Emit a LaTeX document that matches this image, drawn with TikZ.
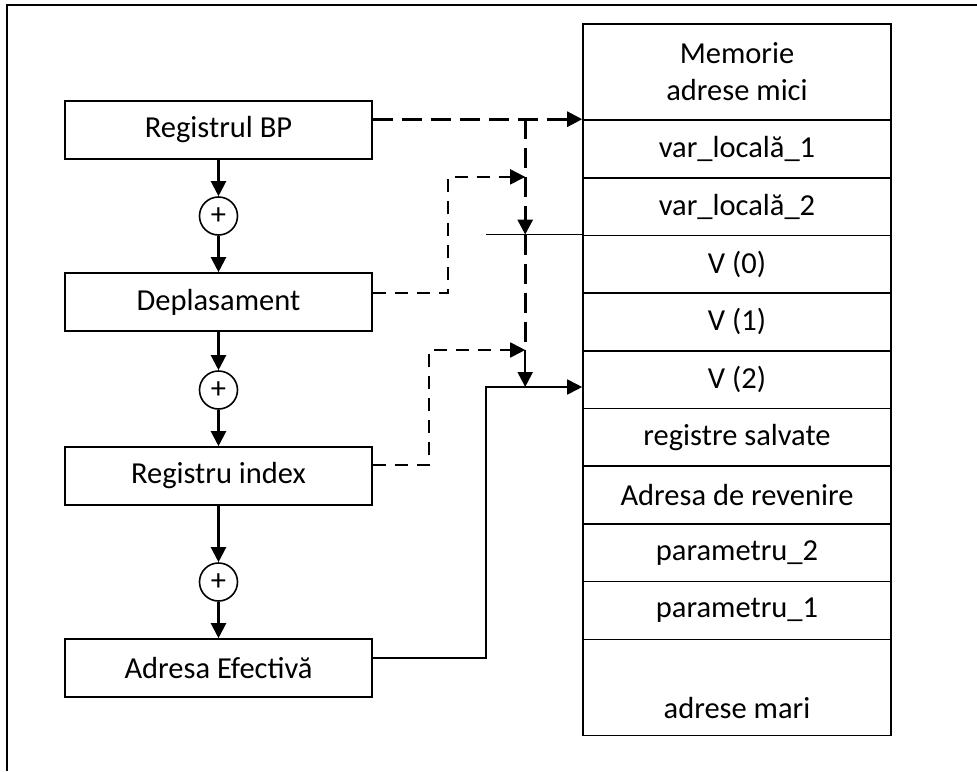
\documentclass[tikz,border=0pt]{standalone}
\usepackage{fontspec}
\setmainfont{Carlito}
\usetikzlibrary{arrows.meta}
\tikzstyle{block} = [draw, rectangle, line width=1.6pt,
    minimum height=58pt, minimum width=307pt]
\tikzstyle{cell} = [draw, rectangle, line width=1.6pt, inner sep=0pt,
    minimum height=57.7pt, minimum width=308pt]
\tikzstyle{bigcell} = [cell, minimum height=96pt, align=center]
\tikzstyle{sum} = [draw, circle, line width=1.6pt, minimum size=38pt, inner sep=0pt]
\tikzstyle{link} = [line width=2.2pt]
\tikzstyle{bpdash} = [line width=2.8pt, dash pattern=on 20pt off 9pt]
\tikzstyle{offdash} = [line width=1.8pt, dash pattern=on 13pt off 9pt]

\begin{document}
\begin{tikzpicture}[x=1pt, y=1pt, node distance=57.7pt,
    >={Triangle[length=15pt,width=15pt]}, font=\fontsize{30.5}{37}\selectfont]
    \useasboundingbox (0,0) rectangle (977,-771);
    \draw [line width=1.6pt] (7,-771) -- (7,-5) -- (977,-5);
    % stiva
    \node [bigcell] (mtop) at (737,-72) {Memorie\\adrese mici};
    \node [cell, below of=mtop, node distance=76.85pt] (m1) {var\_locală\_1};
    \node [cell, below of=m1] (m2) {var\_locală\_2};
    \node [cell, below of=m2] (m3) {V (0)};
    \node [cell, below of=m3] (m4) {V (1)};
    \node [cell, below of=m4] (m5) {V (2)};
    \node [cell, below of=m5] (m6) {registre salvate};
    \node [cell, below of=m6] (m7) {Adresa de revenire};
    \node [cell, below of=m7] (m8) {parametru\_2};
    \node [cell, below of=m8] (m9) {parametru\_1};
    \node [bigcell, below of=m9, node distance=76.85pt] (mbot) {\strut\\adrese mari};
    % calcul adresa
    \node [block] (bp) at (218.5,-130) {Registrul BP};
    \node [sum, below of=bp, node distance=86pt] (s1) {+};
    \node [block, below of=bp, node distance=172pt] (dep) {Deplasament};
    \node [sum, below of=dep, node distance=88pt] (s2) {+};
    \node [block, below of=dep, node distance=174pt] (idx) {Registru index};
    \node [sum, below of=idx, node distance=106pt] (s3) {+};
    \node [block, below of=idx, node distance=192pt] (ea) {Adresa Efectivă};
    \coordinate (bus) at ([xshift=-57pt]m1.north west);
    \coordinate (depturn) at ([xshift=-134pt]m2.north west);
    \coordinate (idxturn) at ([xshift=-153pt]m5.north west);
    \coordinate (eaturn) at ([xshift=-96pt,yshift=-37pt]m5.north west);
    \draw [link,->] (bp) -- (s1);
    \draw [link,->] (s1) -- (dep);
    \draw [link,->] (dep) -- (s2);
    \draw [link,->] (s2) -- (idx);
    \draw [link,->] (idx) -- (s3);
    \draw [link,->] (s3) -- (ea);
    \draw [bpdash,->] (bp.east |- m1.north west) -- (m1.north west);
    \draw [bpdash,->] (bus) -- (bus |- m3.north);
    \draw [bpdash] (bus |- m3.north) -- (bus |- m5.north);
    \draw [link,->] (bus |- m5.north) -- (bus |- eaturn);
    \draw [offdash,->] ([yshift=9pt]dep.east) -| (depturn) -- (bus |- depturn);
    \draw [offdash,->] ([yshift=11pt]idx.east) -| (idxturn) -- (bus |- idxturn);
    \draw [line width=1.8pt,->] ([yshift=10pt]ea.east) -| (eaturn) -- (m5.west |- eaturn);
    \draw [line width=1.6pt] (eaturn |- m3.north) -- (m3.north west);
\end{tikzpicture}
\end{document}
